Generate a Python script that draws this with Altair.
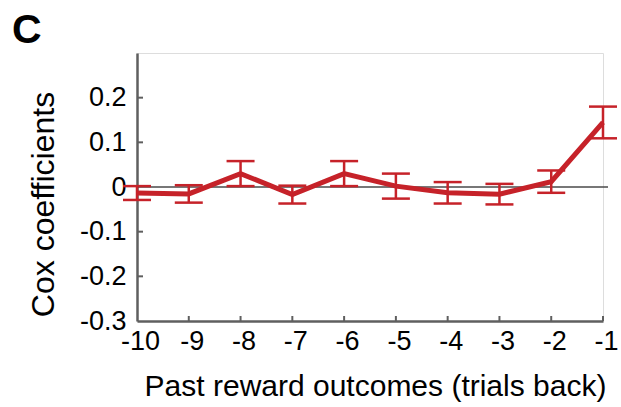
import altair as alt
import pandas as pd

# Past reward lags and fitted Cox coefficients (mean ± s.e.m.)
lags = [-10, -9, -8, -7, -6, -5, -4, -3, -2, -1]
coef = [-0.0135, -0.0155, 0.030, -0.017, 0.030, 0.002, -0.013, -0.016, 0.012, 0.1445]
sem = [0.0155, 0.0195, 0.028, 0.020, 0.028, 0.028, 0.024, 0.023, 0.025, 0.0355]

y_ticks = [0.2, 0.1, 0.0, -0.1, -0.2, -0.3]
x_ticks = lags

RED = "#C62229"
AXIS = "#5f5f5f"
FONT = "Liberation Sans"
W, H = 466, 268

df = pd.DataFrame({"lag": lags, "coef": coef, "sem": sem})
ytick_df = pd.DataFrame({"v": [0.2, 0.1, -0.1, -0.2]})
xtick_df = pd.DataFrame({"v": lags[1:]})
zero_df = pd.DataFrame({"v": [0.0]})

xscale = alt.Scale(domain=[-10, -1], nice=False, zero=False)
yscale = alt.Scale(domain=[-0.3, 0.3], nice=False, zero=False)

x_axis = alt.Axis(
    values=x_ticks, title="Past reward outcomes (trials back)",
    labelExpr="toString(datum.value)", labelFont=FONT, labelFontSize=27,
    labelColor="black", labelPadding=7, labelOffset=3, labelFlush=False,
    ticks=False, tickSize=0, grid=False, domainColor=AXIS, domainWidth=2.5,
    titleFont=FONT, titleFontSize=30, titleFontWeight="normal", titleColor="black",
    titleX=238, titleY=74, titleBaseline="alphabetic", titleAlign="center",
)
y_axis = alt.Axis(
    values=y_ticks, title="Cox coefficients",
    labelExpr="datum.value == 0 ? '0' : toString(round(datum.value * 10) / 10)",
    labelFont=FONT, labelFontSize=27, labelColor="black", labelPadding=11,
    ticks=False, tickSize=0, grid=False, domainColor=AXIS, domainWidth=2.5,
    titleFont=FONT, titleFontSize=32, titleFontWeight="normal", titleColor="black",
    titleX=-94, titleY=151, titleAngle=270, titleBaseline="middle", titleAlign="center",
)

base = alt.Chart(df)

axes = base.mark_point(opacity=0).encode(
    x=alt.X("lag:Q", scale=xscale, axis=x_axis),
    y=alt.Y("coef:Q", scale=yscale, axis=y_axis),
)

zero_line = alt.Chart(zero_df).mark_rule(color="#4a4a4a", strokeWidth=1.5).encode(
    y=alt.Y("v:Q", scale=yscale), x=alt.value(0), x2=alt.value(W + 5)
)

y_tick_marks = alt.Chart(ytick_df).mark_rule(color=AXIS, strokeWidth=2).encode(
    y=alt.Y("v:Q", scale=yscale), x=alt.value(0), x2=alt.value(6)
)
x_tick_marks = alt.Chart(xtick_df).mark_rule(color=AXIS, strokeWidth=2).encode(
    x=alt.X("v:Q", scale=xscale), y=alt.value(H), y2=alt.value(H - 5)
)

err = base.transform_calculate(
    lo="datum.coef - datum.sem", hi="datum.coef + datum.sem"
)
bars = err.mark_rule(color=RED, strokeWidth=2.5).encode(
    x=alt.X("lag:Q", scale=xscale),
    y=alt.Y("lo:Q", scale=yscale), y2="hi:Q",
)
caps_lo = err.mark_tick(color=RED, opacity=1, orient="horizontal", size=28, thickness=2.5).encode(
    x=alt.X("lag:Q", scale=xscale), y=alt.Y("lo:Q", scale=yscale)
)
caps_hi = err.mark_tick(color=RED, opacity=1, orient="horizontal", size=28, thickness=2.5).encode(
    x=alt.X("lag:Q", scale=xscale), y=alt.Y("hi:Q", scale=yscale)
)
line = base.mark_line(color=RED, strokeWidth=5).encode(
    x=alt.X("lag:Q", scale=xscale), y=alt.Y("coef:Q", scale=yscale)
)

chart = alt.layer(
    axes, zero_line, y_tick_marks, x_tick_marks, bars, caps_lo, caps_hi, line
).properties(
    width=W, height=H,
    autosize=alt.AutoSizeParams(type="none"),
    padding={"left": 137, "top": 53, "right": 18, "bottom": 86},
    title=alt.TitleParams(
        "C", anchor="start", frame="group", dx=-125, dy=41, offset=10,
        baseline="alphabetic", font=FONT, fontSize=41, fontWeight="bold", color="black",
    ),
).configure_view(stroke=None).configure(background="white")

chart.save("out.html", embed_options={"renderer": "svg", "actions": False})
